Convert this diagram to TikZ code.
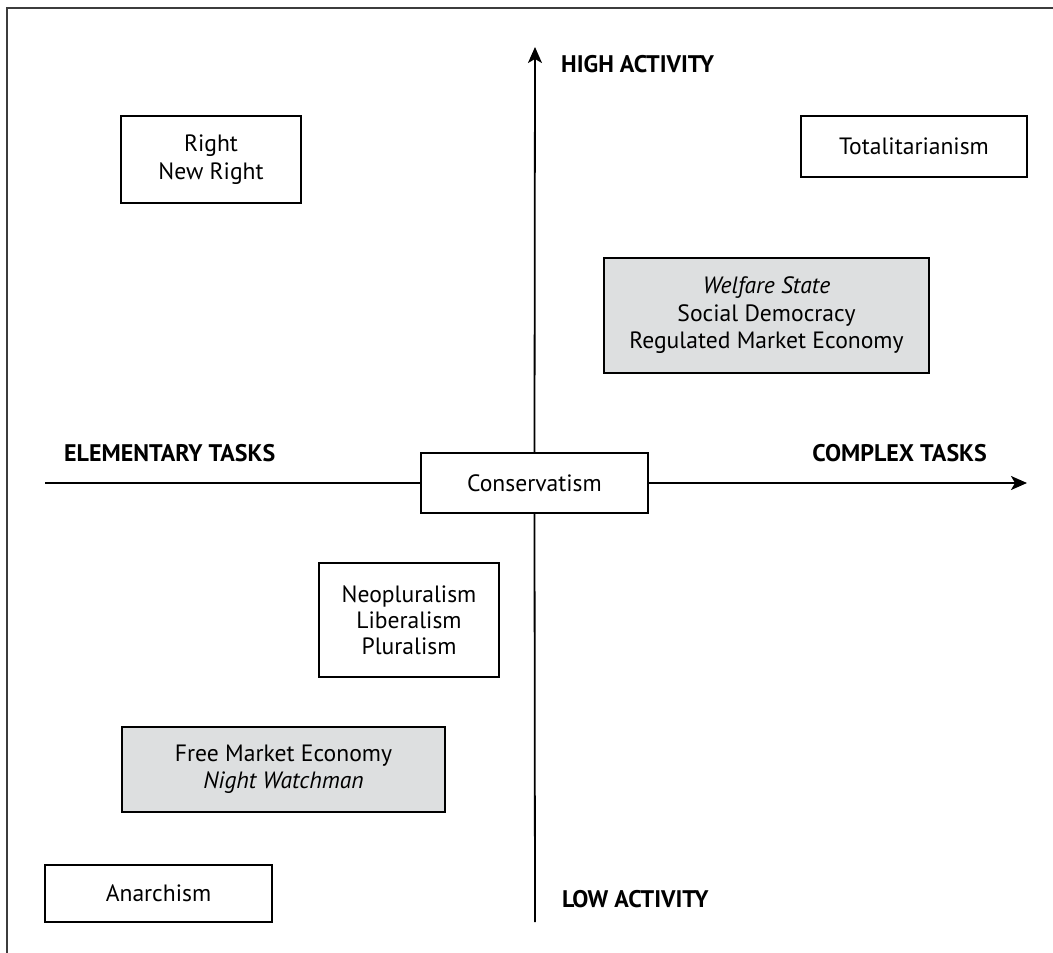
\documentclass[tikz,border=0pt]{standalone}
\usepackage{fontspec}
\setmainfont{PT Sans}
\usetikzlibrary{arrows.meta}
\definecolor{boxgray}{RGB}{221,223,224}
\definecolor{framegray}{RGB}{60,60,60}
\tikzset{
  box/.style={draw=black, line width=1.4pt, fill=white, align=center, inner sep=0pt,
    font=\fontsize{23.6}{27.3}\selectfont},
  graybox/.style={box, fill=boxgray},
  axislabel/.style={inner sep=0pt, font=\fontsize{24}{28}\selectfont\bfseries},
  axis/.style={line width=1.8pt, draw=black},
  tip/.style={-{Stealth[length=16pt,width=14pt,inset=4pt]}}
}
\begin{document}
\begin{tikzpicture}[x=1pt,y=-1pt]
\useasboundingbox (0,0) rectangle (1053,953);
\fill[white] (0,0) rectangle (1053,953);
% frame (clipped at right and bottom)
\draw[line width=1.6pt, framegray] (7,953) -- (7,8) -- (1053,8);

% boxes
\node[box, minimum width=180pt, minimum height=87pt] (right) at (211,159.5) {Right\\New Right};
\node[box, minimum width=226pt, minimum height=61pt] (total) at (914,146.5) {Totalitarianism};
\node[graybox, minimum width=325pt, minimum height=115pt, font=\fontsize{23.6}{27.5}\selectfont] (welfare) at (766.5,315.5) {\itshape Welfare State\\Social Democracy\\Regulated Market Economy};
\node[box, minimum width=227pt, minimum height=60pt] (cons) at (534.5,483) {Conservatism};
\node[box, minimum width=180pt, minimum height=114pt, font=\fontsize{23.6}{26}\selectfont] (neo) at (409,620) {Neopluralism\\Liberalism\\Pluralism};
\node[graybox, minimum width=323pt, minimum height=85pt] (free) at (283.5,769.5) {Free Market Economy\\\itshape Night Watchman};
\node[box, minimum width=227pt, minimum height=57pt] (anar) at (158.5,893.5) {Anarchism};

% axis end points
\coordinate (xl) at (45,483);
\coordinate (xr) at (1027,483);
\coordinate (yb) at (535,922);
\coordinate (yt) at (535,47);

\draw[axis] (xl) -- (cons.west);
\draw[axis, tip] (cons.east) -- (xr);
\draw[axis] (yb) -- (cons.south);
\draw[axis, tip] (cons.north) -- (yt);

% axis labels
\node[axislabel, anchor=west] (high) at (561,64) {HIGH ACTIVITY};
\node[axislabel, anchor=west] (low) at (562,899) {LOW ACTIVITY};
\node[axislabel, anchor=west] (elem) at (64,453) {ELEMENTARY TASKS};
\node[axislabel, anchor=east] (comp) at (987,453) {COMPLEX TASKS};
\end{tikzpicture}
\end{document}
